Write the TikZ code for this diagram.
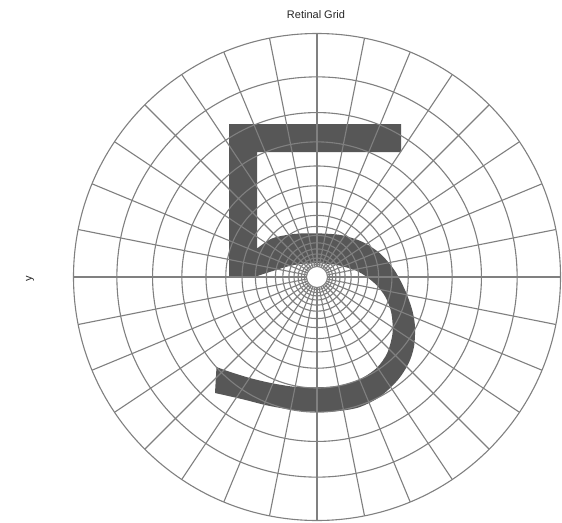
\documentclass[tikz,border=0pt]{standalone}
\usepackage{fontspec}
\setmainfont{Liberation Sans}
\usetikzlibrary{calc}
\definecolor{digitgray}{RGB}{87,87,87}
\definecolor{gridgray}{RGB}{128,128,128}
\tikzset{
  gridline/.style={draw=gridgray, line width=1.1pt},
  digit/.style={fill=digitgray},
  label/.style={font=\fontsize{11}{13}\selectfont, text=black!85}
}
\begin{document}
\begin{tikzpicture}[x=1pt,y=-1pt]
\useasboundingbox[fill=white] (0,0) rectangle (562,522);
\coordinate (C) at (317,277);
% the digit 5
\path[digit] (229,124) -- (401,124) -- (401,152) -- (257,152) -- (257,248)
  -- plot[smooth] coordinates {(257.3,248.3) (272.4,238.3) (293.9,234) (315.4,233.3) (340.5,235) (362,241.7) (379.9,253.3) (394.3,270) (405,290) (412.2,310) (415,326.7) (414,346.7) (408.6,363.3) (397.8,380) (379.9,396.7) (358.4,407.5) (333.3,411.5) (308.2,411.5) (286.7,409) (265.2,405) (243.7,399.5) (215,393)}
  -- (216.5,367)
  -- plot[smooth] coordinates {(216.5,367) (229.4,371.7) (250.9,378.3) (272.4,383.3) (293.9,386.7) (315.4,387.3) (336.9,386) (358.4,380) (376.3,368.3) (387.1,353.3) (392.5,333.3) (391.4,313.3) (385.3,296.7) (374.6,283.3) (358.4,271.7) (336.9,265) (315.4,263.3) (293.9,265) (276,270) (257.3,276)}
  -- (229,276) -- cycle;
% rings
\foreach \k in {0,...,16}{
  \draw[gridline] (C) circle[radius={243.5*exp(-\k*0.19635)}];
}
% spokes
\foreach \i in {0,...,31}{
  \draw[gridline] ($(C)+(\i*11.25:10.5)$) -- ($(C)+(\i*11.25:243.5)$);
}
% labels
\node[label, anchor=base] (title) at (316,19) {Retinal Grid};
\node[label, rotate=90] (ylab) at (30,279) {y};
\end{tikzpicture}
\end{document}
